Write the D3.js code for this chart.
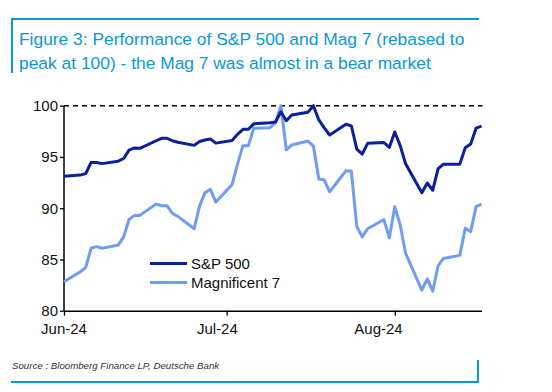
<!DOCTYPE html>
<html>
<head>
<meta charset="utf-8">
<script src="https://cdn.jsdelivr.net/npm/d3@7"></script>
<style>
  html, body { margin: 0; padding: 0; background: #fff; }
  svg { display: block; font-family: "Liberation Sans", Arial, sans-serif; }
</style>
</head>
<body>
<svg id="chart" width="552" height="392"></svg>
<script>
// ---- data ----
const titleLines = [
  "Figure 3: Performance of S&P 500 and Mag 7 (rebased to",
  "peak at 100) - the Mag 7 was almost in a bear market"
];
const sourceText = "Source : Bloomberg Finance LP, Deutsche Bank";
const seriesNames = ["S&P 500", "Magnificent 7"];

const dates = [
  "2024-05-31",
  "2024-06-03","2024-06-04","2024-06-05","2024-06-06","2024-06-07",
  "2024-06-10","2024-06-11","2024-06-12","2024-06-13","2024-06-14",
  "2024-06-17","2024-06-18","2024-06-19","2024-06-20","2024-06-21",
  "2024-06-24","2024-06-25","2024-06-26","2024-06-27","2024-06-28",
  "2024-07-01","2024-07-02","2024-07-03","2024-07-04","2024-07-05",
  "2024-07-08","2024-07-09","2024-07-10","2024-07-11","2024-07-12",
  "2024-07-15","2024-07-16","2024-07-17","2024-07-18","2024-07-19",
  "2024-07-22","2024-07-23","2024-07-24","2024-07-25","2024-07-26",
  "2024-07-29","2024-07-30","2024-07-31","2024-08-01","2024-08-02",
  "2024-08-05","2024-08-06","2024-08-07","2024-08-08","2024-08-09",
  "2024-08-12","2024-08-13","2024-08-14","2024-08-15","2024-08-16"
];
const sp500 = [
  93.12,
  93.23, 93.37, 94.47, 94.45, 94.35,
  94.59, 94.85, 95.66, 95.88, 95.84,
  96.58, 96.82, 96.82, 96.58, 96.43,
  96.13, 96.51, 96.66, 96.75, 96.35,
  96.61, 97.21, 97.70, 97.70, 98.23,
  98.34, 98.41, 99.41, 98.54, 99.09,
  99.37, 100.0, 98.61, 97.84, 97.14,
  98.19, 98.03, 95.76, 95.27, 96.33,
  96.41, 95.93, 97.44, 96.11, 94.34,
  91.51, 92.46, 91.75, 93.86, 94.30,
  94.30, 95.89, 96.26, 97.81, 98.01
];
const mag7 = [
  82.83,
  83.80, 84.20, 86.10, 86.25, 86.10,
  86.40, 87.20, 88.90, 89.30, 89.30,
  90.40, 90.25, 90.25, 89.50, 89.20,
  88.00, 90.20, 91.50, 91.85, 90.60,
  92.30, 94.30, 96.10, 96.10, 97.80,
  97.85, 98.35, 100.0, 95.70, 96.17,
  96.55, 96.05, 92.85, 92.75, 91.60,
  93.65, 93.60, 88.20, 87.20, 88.00,
  88.90, 87.10, 90.15, 88.36, 85.60,
  82.00, 83.10, 81.90, 84.40, 85.10,
  85.40, 88.05, 87.70, 90.15, 90.40
];
const yTicks = [80, 85, 90, 95, 100];
const xTickDates = ["2024-05-31", "2024-06-30", "2024-07-31"];
const xLabelDates = ["2024-05-31", "2024-06-28", "2024-07-28"];
const xLabels = ["Jun-24", "Jul-24", "Aug-24"];

// ---- styling ----
const frameBlue = "#0a98d8";
const colSP = "#0b1f98";
const colMag = "#719df0";

const parse = d3.timeParse("%Y-%m-%d");
const svg = d3.select("#chart");

// title frame
svg.append("line").attr("x1", 11).attr("x2", 479).attr("y1", 19).attr("y2", 19)
  .attr("stroke", frameBlue).attr("stroke-width", 2);
svg.append("line").attr("x1", 12).attr("x2", 12).attr("y1", 18).attr("y2", 73)
  .attr("stroke", frameBlue).attr("stroke-width", 2);
svg.append("g").selectAll("text").data(titleLines).join("text")
  .attr("x", 19).attr("y", (d, i) => 45 + i * 23.5)
  .attr("fill", frameBlue).attr("font-size", 17.4)
  .text(d => d);

// source frame
svg.append("text").attr("x", 12).attr("y", 369)
  .attr("font-size", 9.7).attr("font-style", "italic").attr("fill", "#333")
  .text(sourceText);
svg.append("line").attr("x1", 11).attr("x2", 479).attr("y1", 382).attr("y2", 382)
  .attr("stroke", frameBlue).attr("stroke-width", 2);
svg.append("line").attr("x1", 478).attr("x2", 478).attr("y1", 360).attr("y2", 383)
  .attr("stroke", frameBlue).attr("stroke-width", 2);

// scales
const x = d3.scaleTime()
  .domain([parse("2024-05-31"), parse("2024-08-16")])
  .range([64, 481.5]);
const y = d3.scaleLinear().domain([80, 100]).range([310.7, 105.7]);

// dashed 100 line
svg.append("line")
  .attr("x1", x.range()[0]).attr("x2", x.range()[1] + 1)
  .attr("y1", y(100)).attr("y2", y(100))
  .attr("stroke", "#000").attr("stroke-width", 1.5).attr("stroke-dasharray", "5,4");

// axes
const yAxis = svg.append("g").attr("transform", `translate(${x.range()[0]},0)`)
  .call(d3.axisLeft(y).tickValues(yTicks).tickSize(4).tickPadding(2).tickSizeOuter(0));
yAxis.select(".domain").attr("stroke", "#000").attr("stroke-width", 1.5)
  .attr("d", `M0,${y(80)}V${y(100)}`);
yAxis.selectAll(".tick line").attr("stroke", "#000").attr("stroke-width", 1.3);
yAxis.selectAll(".tick text").attr("font-size", 15).attr("fill", "#111")
  .attr("font-family", "Liberation Sans, Arial, sans-serif");

const xAxis = svg.append("g").attr("transform", `translate(0,${y(80)})`)
  .call(d3.axisBottom(x).tickValues(xTickDates.map(parse)).tickSize(5).tickSizeOuter(0).tickFormat(""));
xAxis.select(".domain").attr("stroke", "#000").attr("stroke-width", 1.5);
xAxis.selectAll(".tick line").attr("stroke", "#000").attr("stroke-width", 1.3);
svg.append("g").selectAll("text").data(xLabels).join("text")
  .attr("x", (d, i) => x(parse(xLabelDates[i])) + (i === 1 ? 1.5 : 0))
  .attr("y", 334)
  .attr("text-anchor", "middle").attr("font-size", 15).attr("fill", "#111")
  .text(d => d);

// lines
const pts = dates.map(parse);
const line = d3.line().x((d, i) => x(pts[i])).y(d => y(d));
svg.append("path").datum(mag7).attr("d", line)
  .attr("fill", "none").attr("stroke", colMag).attr("stroke-width", 3)
  .attr("stroke-linejoin", "round");
svg.append("path").datum(sp500).attr("d", line)
  .attr("fill", "none").attr("stroke", colSP).attr("stroke-width", 3)
  .attr("stroke-linejoin", "round");

// legend
const legend = svg.append("g");
[colSP, colMag].forEach((c, i) => {
  legend.append("line").attr("x1", 150).attr("x2", 187)
    .attr("y1", 263.5 + i * 19).attr("y2", 263.5 + i * 19)
    .attr("stroke", c).attr("stroke-width", 3);
  legend.append("text").attr("x", 191).attr("y", 268.5 + i * 19)
    .attr("font-size", 15).attr("fill", "#111").text(seriesNames[i]);
});
</script>
</body>
</html>
